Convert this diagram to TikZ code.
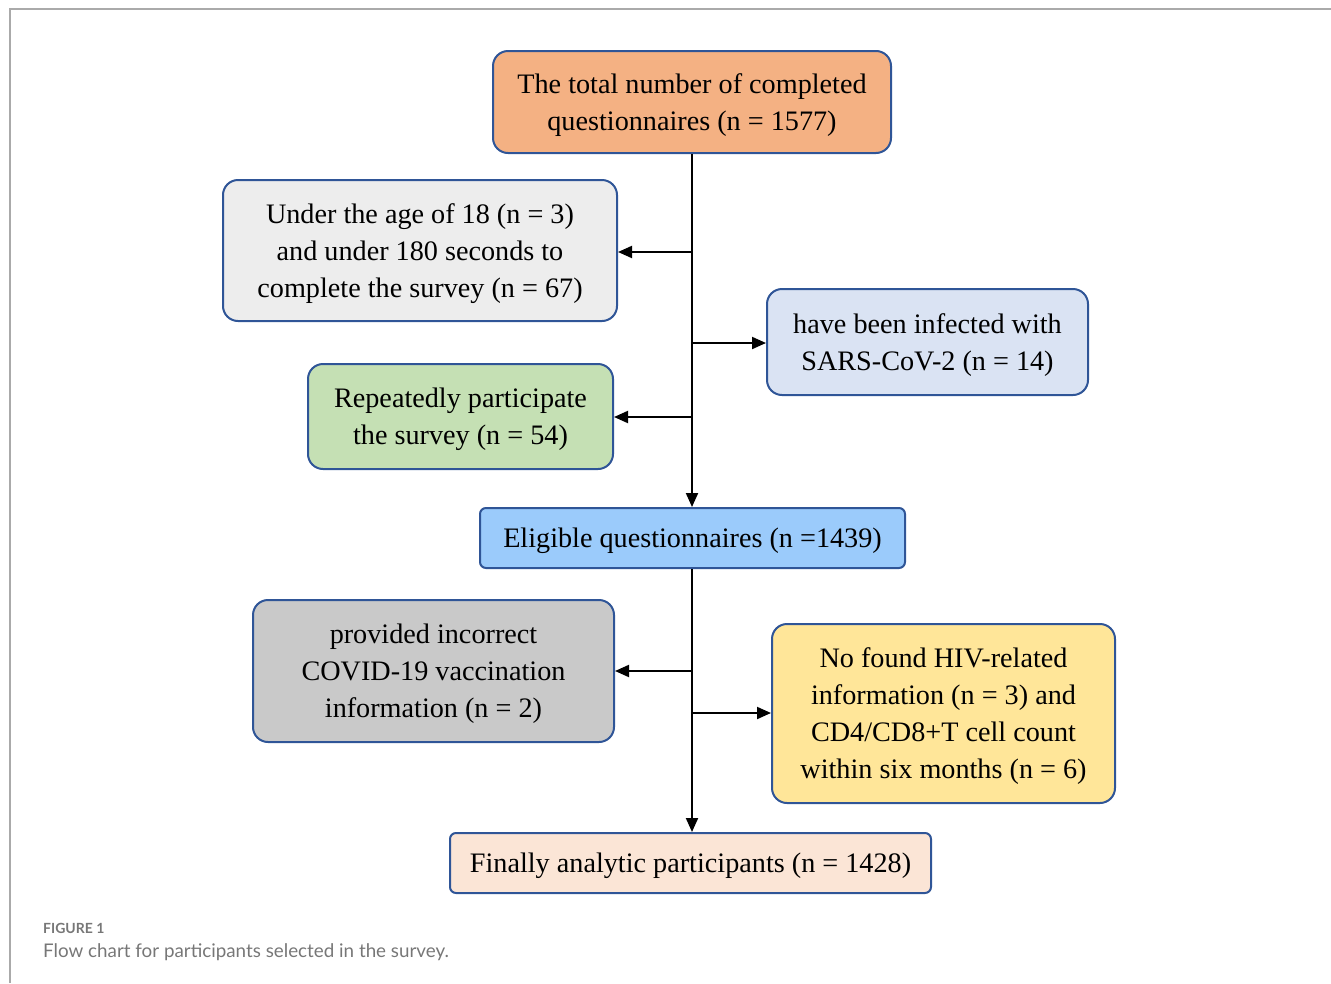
\documentclass[tikz,border=0pt]{standalone}
\usepackage{fontspec}
\setmainfont{Liberation Serif}
\newfontfamily\capfont{Lato}
\usetikzlibrary{arrows.meta}
\definecolor{bord}{HTML}{2F5597}
\definecolor{cOrange}{HTML}{F4B183}
\definecolor{cGrey}{HTML}{EDEDED}
\definecolor{cBlue}{HTML}{DAE3F3}
\definecolor{cGreen}{HTML}{C5E0B4}
\definecolor{cSky}{HTML}{9BCBFB}
\definecolor{cDark}{HTML}{C9C9C9}
\definecolor{cYellow}{HTML}{FFE699}
\definecolor{cPeach}{HTML}{FBE5D6}
\definecolor{frameg}{HTML}{AAAAAA}
\definecolor{capg}{HTML}{777777}
\begin{document}
\begin{tikzpicture}[x=1pt,y=-1pt,
  box/.style={draw=bord,line width=2pt,rounded corners=15pt,align=center,
    font=\fontsize{28.2}{37}\selectfont,inner sep=0pt,text depth=-8pt},
  flat/.style={box,rounded corners=6pt},
  arr/.style={line width=2pt,-{Triangle[length=14pt,width=12pt]}},
  ln/.style={line width=2pt}]
\useasboundingbox (0,0) rectangle (1331,983);
\draw[frameg,line width=1.5pt] (10,983) -- (10,9) -- (1331,9);
\node[box,fill=cOrange,minimum width=398pt,minimum height=102pt] (b1) at (692,102)
  {The total number of completed\\questionnaires (n = 1577)};
\node[box,fill=cGrey,minimum width=394pt,minimum height=141pt] (b2) at (420,250.5)
  {Under the age of 18 (n = 3)\\and under 180 seconds to\\complete the survey (n = 67)};
\node[box,fill=cBlue,minimum width=321pt,minimum height=106pt] (b3) at (927.5,342)
  {have been infected with\\SARS-CoV-2 (n = 14)};
\node[box,fill=cGreen,minimum width=305pt,minimum height=105pt] (b4) at (460.5,416.5)
  {Repeatedly participate\\the survey (n = 54)};
\node[flat,fill=cSky,minimum width=425pt,minimum height=60pt] (b5) at (692.5,538)
  {Eligible questionnaires (n =1439)};
\node[box,fill=cDark,minimum width=361pt,minimum height=142pt] (b6) at (433.5,671)
  {provided incorrect\\COVID-19 vaccination\\information (n = 2)};
\node[box,fill=cYellow,minimum width=343pt,minimum height=179pt] (b7) at (943.5,713.5)
  {No found HIV-related\\information (n = 3) and\\CD4/CD8+T cell count\\within six months (n = 6)};
\node[flat,fill=cPeach,minimum width=481pt,minimum height=60pt] (b8) at (690.5,863)
  {Finally analytic participants (n = 1428)};
\coordinate (t1) at (692,252);
\coordinate (t2) at (692,343);
\coordinate (t3) at (692,417);
\coordinate (t4) at (692,671);
\coordinate (t5) at (692,713);
\draw[arr] (b1.south -| t1) -- (b5.north -| t1);
\draw[arr] (b5.south -| t4) -- (b8.north -| t4);
\draw[arr] (t1) -- (b2.east |- t1);
\draw[arr] (t2) -- (b3.west |- t2);
\draw[arr] (t3) -- (b4.east |- t3);
\draw[arr] (t4) -- (b6.east |- t4);
\draw[arr] (t5) -- (b7.west |- t5);
\node[anchor=base west,inner sep=0pt,text=capg,font=\capfont\bfseries\fontsize{14}{16}\selectfont] (cap1) at (43,933) {FIGURE 1};
\node[anchor=base west,inner sep=0pt,text=capg,font=\capfont\fontsize{18.8}{22}\selectfont] (cap2) at (43,957) {Flow chart for participants selected in the survey.};
\end{tikzpicture}
\end{document}
